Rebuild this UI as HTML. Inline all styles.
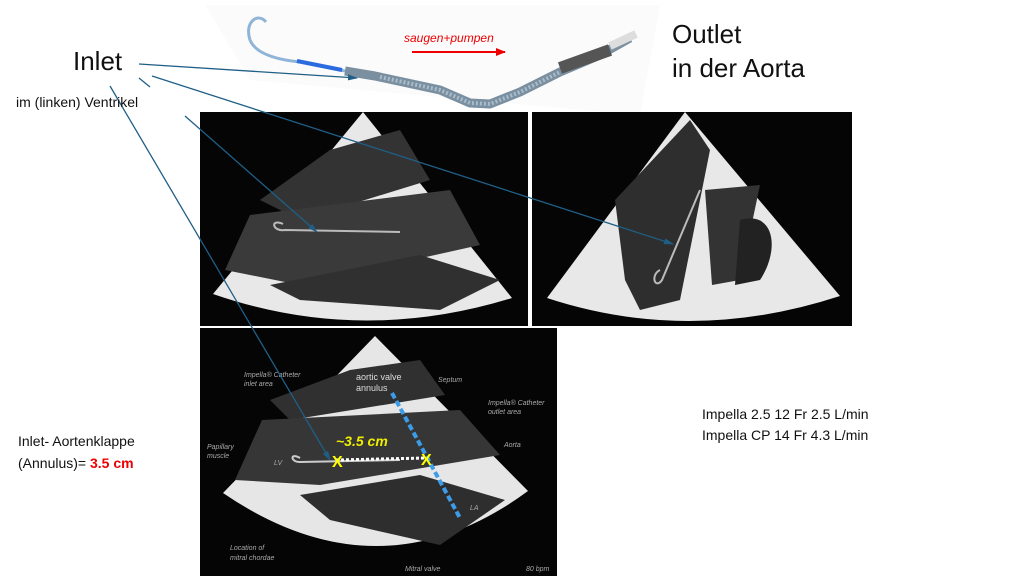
<!DOCTYPE html>
<html><head><meta charset="utf-8"><style>
html,body{margin:0;padding:0;background:#fff;}
body{width:1024px;height:576px;overflow:hidden;position:relative;font-family:"Liberation Sans",sans-serif;}
.t{position:absolute;color:#111;white-space:nowrap;}
</style></head><body>
<svg width="1024" height="576" style="position:absolute;left:0;top:0">
<defs>
<marker id="ar" markerUnits="userSpaceOnUse" markerWidth="10" markerHeight="8" refX="9" refY="4" orient="auto"><path d="M0,1 L10,4 L0,7 z" fill="#1f5f86"/></marker>
<marker id="rr" markerUnits="userSpaceOnUse" markerWidth="10" markerHeight="10" refX="9" refY="5" orient="auto"><path d="M0,1 L10,5 L0,9 z" fill="#e00"/></marker>
</defs>
<!-- catheter -->
<path d="M205,5 L660,5 L640,115 L250,80 Z" fill="#fbfbfc"/>
<path d="M250,40 C244,22 258,12 266,22" stroke="#8fb4d8" stroke-width="3" fill="none"/>
<path d="M250,40 C256,55 280,60 300,62 L345,71" stroke="#8fb4d8" stroke-width="3" fill="none"/>
<line x1="297" y1="61" x2="342" y2="70" stroke="#2a6be0" stroke-width="4"/>
<path d="M345,71 L375,76 L440,90 L470,103 L490,104 L520,92 L560,72 L600,55 L630,38" stroke="#7a8fa0" stroke-width="9" fill="none" stroke-linejoin="round"/>
<path d="M380,77 L440,90 L470,103 L490,104 L520,92 L560,72" stroke="#a8bccb" stroke-width="4" fill="none" stroke-dasharray="2 2"/>
<line x1="560" y1="68" x2="610" y2="50" stroke="#555" stroke-width="12"/>
<line x1="610" y1="46" x2="636" y2="34" stroke="#ddd" stroke-width="8"/>
<line x1="412" y1="52" x2="505" y2="52" stroke="#e00" stroke-width="2" marker-end="url(#rr)"/>
<!-- panels -->
<rect x="200" y="112" width="328" height="214" fill="#050505"/>
<rect x="532" y="112" width="320" height="214" fill="#050505"/>
<rect x="200" y="328" width="357" height="248" fill="#050505"/>
<!-- top-left fan -->
<path d="M363,112 L213,294 Q360,345 512,298 Z" fill="#e8e8e8"/>
<path d="M330,150 L400,130 L430,180 L300,220 L260,200 Z" fill="#333"/>
<path d="M250,215 L450,190 L480,245 L300,285 L225,270 Z" fill="#3a3a3a"/>
<path d="M270,285 L420,255 L500,280 L440,310 L300,300 Z" fill="#303030"/>
<path d="M283,224 C270,218 272,232 285,230 L400,232" stroke="#bbb" stroke-width="2" fill="none"/>
<!-- top-right fan -->
<path d="M685,112 L547,298 Q690,345 840,296 Z" fill="#e8e8e8"/>
<path d="M690,120 L710,150 L690,250 L680,300 L640,310 L625,280 L615,200 Z" fill="#2e2e2e"/>
<path d="M705,190 L760,185 L740,280 L712,285 Z" fill="#333"/>
<path d="M740,220 C775,210 780,250 760,280 L735,285 Z" fill="#222"/>
<path d="M660,270 C650,275 655,290 662,280 L700,190" stroke="#bbb" stroke-width="2" fill="none"/>
<!-- bottom fan -->
<path d="M375,336 L223,493 Q380,600 528,491 Z" fill="#e6e6e6"/>
<path d="M350,370 L420,360 L445,395 L290,420 L270,400 Z" fill="#303030"/>
<path d="M262,420 L460,410 L500,455 L320,485 L235,480 Z" fill="#363636"/>
<path d="M300,495 L420,475 L505,500 L440,545 L330,520 Z" fill="#2e2e2e"/>
<path d="M300,458 C290,452 290,462 300,462 L400,460" stroke="#ccc" stroke-width="2" fill="none"/>
<line x1="392" y1="393" x2="460" y2="518" stroke="#3d9ce8" stroke-width="4" stroke-dasharray="6 3"/>
<line x1="336" y1="460" x2="426" y2="458" stroke="#fff" stroke-width="3" stroke-dasharray="3 2"/>
<text x="332" y="467" font-family="Liberation Sans" font-size="16" font-weight="bold" fill="#ff0" >X</text>
<text x="421" y="465" font-family="Liberation Sans" font-size="16" font-weight="bold" fill="#ff0">X</text>
<text x="336" y="446" font-family="Liberation Sans" font-size="14" font-style="italic" font-weight="bold" fill="#ee0">~3.5 cm</text>
<text x="356" y="380" font-family="Liberation Sans" font-size="9" fill="#ddd">aortic valve</text>
<text x="356" y="391" font-family="Liberation Sans" font-size="9" fill="#ddd">annulus</text>
<g font-family="Liberation Sans" font-size="7" font-style="italic" fill="#aaa">
<text x="244" y="377">Impella® Catheter</text><text x="244" y="386">inlet area</text>
<text x="438" y="382">Septum</text>
<text x="488" y="405">Impella® Catheter</text><text x="488" y="414">outlet area</text>
<text x="504" y="447">Aorta</text>
<text x="207" y="449">Papillary</text><text x="207" y="458">muscle</text>
<text x="274" y="465">LV</text><text x="470" y="510">LA</text>
<text x="230" y="550">Location of</text><text x="230" y="560">mitral chordae</text>
<text x="405" y="571">Mitral valve</text>
<text x="526" y="571">80 bpm</text>
</g>
<!-- connectors -->
<g stroke="#1f5f86" stroke-width="1.3" fill="none">
<line x1="139" y1="64" x2="357" y2="78" marker-end="url(#ar)"/>
<line x1="152" y1="76" x2="673" y2="244" marker-end="url(#ar)"/>
<line x1="185" y1="116" x2="317" y2="232" marker-end="url(#ar)"/>
<line x1="139" y1="78" x2="150" y2="87"/>
<line x1="110" y1="86" x2="330" y2="460" marker-end="url(#ar)"/>
</g>
</svg>
<div class="t" style="left:73px;top:46px;font-size:26px;">Inlet</div>
<div class="t" style="left:16px;top:94px;font-size:14px;">im (linken) Ventrikel</div>
<div class="t" style="left:404px;top:31px;font-size:12px;color:#e00;font-style:italic;">saugen+pumpen</div>
<div class="t" style="left:672px;top:17px;font-size:26px;line-height:34px;">Outlet<br>in der Aorta</div>
<div class="t" style="left:18px;top:430px;font-size:14px;line-height:22px;">Inlet- Aortenklappe<br>(Annulus)= <b style="color:#e00">3.5 cm</b></div>
<div class="t" style="left:702px;top:404px;font-size:14px;line-height:21px;">Impella 2.5 12 Fr 2.5 L/min<br>Impella CP 14 Fr 4.3 L/min</div>
</body></html>
